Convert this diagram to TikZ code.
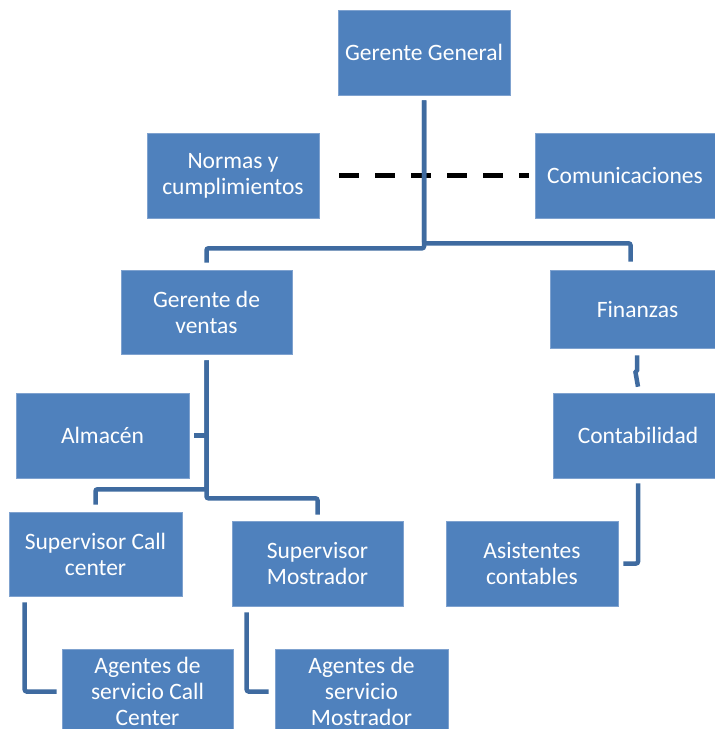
\documentclass[tikz,border=0pt]{standalone}
\usepackage{fontspec}
\setmainfont{Carlito}
\definecolor{boxblue}{HTML}{4F81BD}
\definecolor{boxedge}{HTML}{7FA2CF}
\definecolor{linkblue}{HTML}{3F6BA0}
\begin{document}
\begin{tikzpicture}[x=1pt,y=-1pt,
  unit/.style={rectangle, fill=boxblue, draw=boxedge, line width=0.6pt,
    inner sep=0pt, text=white, align=center,
    font=\fontsize{23.5}{26}\selectfont},
  conn/.style={draw=linkblue, line width=4.5pt, rounded corners=2pt},
  staff/.style={draw=black, line width=4.5pt, dash pattern=on 20pt off 16pt}]
\clip (0,0) rectangle (715,729);

% organisation units
\node[unit, minimum width=172, minimum height=85] (gg)   at (424,52.5)   {Gerente General};
\node[unit, minimum width=172, minimum height=85] (nc)   at (233,175.5)  {Normas y\\cumplimientos};
\node[unit, minimum width=180, minimum height=85] (com)  at (625,175.5)  {Comunicaciones};
\node[unit, minimum width=171, minimum height=84] (gv)   at (206.5,312)  {Gerente de\\ventas};
\node[unit, minimum width=175, minimum height=78] (fin)  at (637.5,309)  {Finanzas};
\node[unit, minimum width=173, minimum height=85] (alm)  at (102.5,435.5){Almacén};
\node[unit, minimum width=170, minimum height=85] (cont) at (638,435.5)  {Contabilidad};
\node[unit, minimum width=173, minimum height=84] (scc)  at (95.5,554)   {Supervisor Call\\center};
\node[unit, minimum width=171, minimum height=85] (sm)   at (317.5,563.5){Supervisor\\Mostrador};
\node[unit, minimum width=172, minimum height=85] (asis) at (532,563.5)  {Asistentes\\contables};
\node[unit, minimum width=171, minimum height=85] (ascc) at (147.5,691.5){Agentes de\\servicio Call\\Center};
\node[unit, minimum width=173, minimum height=85] (asm)  at (361.5,691.5){Agentes de\\servicio\\Mostrador};

% staff line
\draw[staff] ([xshift=20pt]nc.east) -- ([xshift=-6pt]com.west);

% reporting lines
\draw[conn] ([yshift=-5pt]gg.south) -- ++(0,148) -| ([yshift=7pt]gv.north);
\draw[conn] ([yshift=-5pt]gg.south) -- ++(0,143) -| ([yshift=8pt,xshift=-7pt]fin.north);
\draw[conn, rounded corners=0pt] ([yshift=-7pt,xshift=-0.5pt]fin.south) -- ++(0,15) -- ++(-1.5,2) -- ([yshift=6pt]cont.north);
\draw[conn] ([yshift=-5pt]cont.south) |- ([xshift=5pt]asis.east);
\draw[conn] ([yshift=-6pt]gv.south) -- ++(0,138) -| ([yshift=6pt]sm.north);
\draw[conn] ([yshift=-6pt]gv.south) -- ++(0,129) -| ([yshift=7pt]scc.north);
\draw[conn] ([xshift=5pt]alm.east) -- (alm.east -| gv.south);
\draw[conn] ([xshift=16pt,yshift=-6pt]scc.south west) |- ([xshift=-5pt]ascc.west);
\draw[conn] ([xshift=15pt,yshift=-6pt]sm.south west) |- ([xshift=-6pt]asm.west);
\end{tikzpicture}
\end{document}
